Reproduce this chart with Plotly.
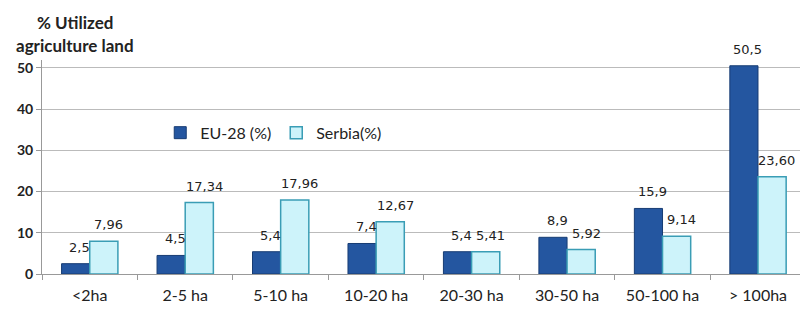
import plotly.graph_objects as go

categories = ["<2ha", "2-5 ha", "5-10 ha", "10-20 ha", "20-30 ha", "30-50 ha", "50-100 ha", "> 100ha"]
eu28 = [2.5, 4.5, 5.4, 7.4, 5.4, 8.9, 15.9, 50.5]
eu28_labels = ["2,5", "4,5", "5,4", "7,4", "5,4", "8,9", "15,9", "50,5"]
serbia = [7.96, 17.34, 17.96, 12.67, 5.41, 5.92, 9.14, 23.60]
serbia_labels = ["7,96", "17,34", "17,96", "12,67", "5,41", "5,92", "9,14", "23,60"]
y_ticks = [0, 10, 20, 30, 40, 50]

label_font = dict(family="DejaVu Sans", size=13, color="#222222")

fig = go.Figure()
fig.add_trace(go.Bar(
    name="EU-28 (%)", x=categories, y=eu28,
    marker=dict(color="#2456A0", line=dict(color="#173C73", width=1)),
))
fig.add_trace(go.Bar(
    name="Serbia(%)", x=categories, y=serbia,
    marker=dict(color="#CDF3FA", line=dict(color="#3A9DB5", width=1.5)),
))

annotations = []
for cat, v, t in zip(categories, eu28, eu28_labels):
    annotations.append(dict(x=cat, y=v, xref="x", yref="y", text=t, showarrow=False,
                            xanchor="center", yanchor="bottom", xshift=-10, yshift=7,
                            font=label_font))
for cat, v, t in zip(categories, serbia, serbia_labels):
    annotations.append(dict(x=cat, y=v, xref="x", yref="y", text=t, showarrow=False,
                            xanchor="center", yanchor="bottom", xshift=19, yshift=7,
                            font=label_font))
title_font = dict(family="Lato", size=17, color="#222222", weight="bold")
annotations.append(dict(text="% Utilized", xref="paper", yref="paper", x=0.0435, y=1.0,
                        xanchor="center", yanchor="middle", yshift=38, showarrow=False,
                        font=title_font))
annotations.append(dict(text="agriculture land", xref="paper", yref="paper", x=0.0435, y=1.0,
                        xanchor="center", yanchor="middle", yshift=15, showarrow=False,
                        font=title_font))

fig.update_layout(
    width=800, height=311,
    margin=dict(l=42, r=0, t=60, b=37),
    paper_bgcolor="white", plot_bgcolor="white",
    barmode="group", bargap=0.41, bargroupgap=0,
    font=dict(family="Lato", size=14, color="#222222"),
    legend=dict(orientation="h", x=0.156, y=0.66, xanchor="left", yanchor="middle",
                bgcolor="rgba(0,0,0,0)", font=dict(family="Lato", size=16),
                itemwidth=30, tracegroupgap=0),
    showlegend=True,
    annotations=annotations,
)
fig.update_xaxes(
    range=[-0.5, 7.44], showline=True, linecolor="#999999", linewidth=1,
    ticks="outside", tickson="boundaries", ticklen=5, tickcolor="#999999",
    ticklabelstandoff=7,
    tickfont=dict(family="Lato", size=16, color="#222222"), showgrid=False,
)
fig.update_yaxes(
    range=[0, 51.9], tickvals=y_ticks, showline=True, linecolor="#999999", linewidth=1,
    ticks="outside", ticklen=5, tickcolor="#999999",
    showgrid=True, gridcolor="#BBBBBB", gridwidth=1, zeroline=False,
    tickfont=dict(family="Lato", size=14, color="#222222", weight="bold"),
)

fig.write_html("out.html", config={"displayModeBar": False},
               post_script="document.body.style.margin='0px';")
